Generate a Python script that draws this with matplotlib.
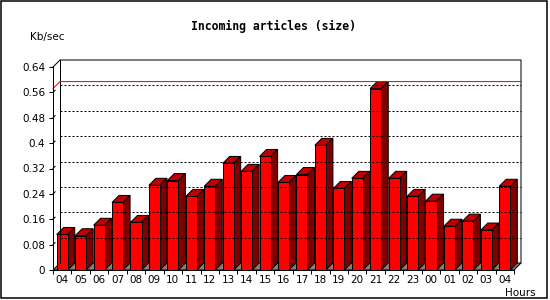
#Recreate the "Incoming articles (size)" 3D style bar chart
import numpy as np
import matplotlib
matplotlib.use('Agg')
import matplotlib.pyplot as plt
from matplotlib.patches import Polygon, Rectangle

#Data
hours = ['04', '05', '06', '07', '08', '09', '10', '11', '12', '13', '14', '15', '16',
         '17', '18', '19', '20', '21', '22', '23', '00', '01', '02', '03', '04']
kbps = [0.112, 0.108, 0.141, 0.213, 0.150, 0.267, 0.282, 0.232, 0.264, 0.336, 0.311, 0.358, 0.276,
        0.301, 0.393, 0.257, 0.289, 0.572, 0.289, 0.232, 0.217, 0.138, 0.154, 0.126, 0.264]
yticks = [0, 0.08, 0.16, 0.24, 0.32, 0.4, 0.48, 0.56, 0.64]
ytick_labels = ['0', '0.08', '0.16', '0.24', '0.32', '0.4', '0.48', '0.56', '0.64']

W, H = 550., 300.
fig = plt.figure(figsize=(5.5, 3), dpi=100)
ax = fig.add_axes([53/W, 30/H, 461/W, 203/H]) #front plane of the plot
n = len(kbps)
ax.set_xlim(0, n)
ax.set_ylim(0, yticks[-1])

#depth offset of 7x7 pixels converted into data units
p = ax.transData.transform([(0, 0)])[0]
ddx, ddy = ax.transData.inverted().transform([(p[0]+7, p[1]+7)])[0]

lw = 0.72 #one pixel
dots = (0, (2, 2))

#back plane grid lines and the small piece on the left wall
for t in yticks[1:-1]:
    ax.plot([ddx, n+ddx], [t+ddy, t+ddy], color='black', lw=lw, linestyle=dots, clip_on=False)
    ax.plot([0, 0.3*ddx], [t, t+0.3*ddy], color='black', lw=lw, clip_on=False)

#back box
top = yticks[-1]
ax.plot([0, ddx, n+ddx, n+ddx], [top, top+ddy, top+ddy, ddy], color='black', lw=lw, clip_on=False)
ax.plot([ddx, ddx], [ddy, top+ddy], color='black', lw=lw, clip_on=False)

#red line at the maximum
vmax = max(kbps)
ax.plot([0, ddx, n+ddx], [vmax, vmax+ddy, vmax+ddy], color='#ff0000', lw=lw, clip_on=False)

#floor
ax.add_patch(Polygon([(0, 0), (n, 0), (n+ddx, ddy), (ddx, ddy)], closed=True,
                     facecolor='#808080', edgecolor='black', lw=lw, clip_on=False))

#bars: front, top and side faces
for i, v in enumerate(kbps):
    x0 = i + 0.2
    x1 = i + 0.8
    ax.add_patch(Polygon([(x0, v), (x1, v), (x1+ddx, v+ddy), (x0+ddx, v+ddy)], closed=True,
                         facecolor='#c00000', edgecolor='black', lw=lw, clip_on=False))
    ax.add_patch(Polygon([(x1, 0), (x1+ddx, ddy), (x1+ddx, v+ddy), (x1, v)], closed=True,
                         facecolor='#800000', edgecolor='black', lw=lw, clip_on=False))
    ax.add_patch(Rectangle((x0, 0), x1-x0, v, facecolor='#ff0000', edgecolor='black', lw=lw, clip_on=False))

#front axes
for s in ['top', 'right']:
    ax.spines[s].set_visible(False)
ax.spines['left'].set_linewidth(lw)
ax.spines['bottom'].set_linewidth(lw)
ax.set_facecolor('none')

ax.set_yticks(yticks)
ax.set_yticklabels(ytick_labels)
ax.tick_params(axis='y', length=3, width=lw, pad=2.5, labelsize=7.5)
ax.set_xticks(np.arange(0, n+1))
ax.set_xticklabels([])
ax.tick_params(axis='x', which='major', length=3, width=lw)
ax.set_xticks(np.arange(n)+0.5, minor=True)
ax.set_xticklabels(hours, minor=True)
ax.tick_params(axis='x', which='minor', length=0, pad=3.5, labelsize=7.5)

#texts
fig.text(273.7/W, 1-26.7/H, 'Incoming articles (size)', ha='center', va='center',
         family='DejaVu Sans Mono', weight='bold', fontsize=8.3)
fig.text(30/W, 1-36.7/H, 'Kb/sec', ha='left', va='center', fontsize=7.5)
fig.text(505/W, 1-292.7/H, 'Hours', ha='left', va='center', fontsize=7.5)

#outer frame
fig.patches.append(Rectangle((1/W, 2/H), 545.5/W, 297/H, transform=fig.transFigure,
                             fill=False, edgecolor='black', lw=1.1))

fig.savefig('out.png', dpi=100)
